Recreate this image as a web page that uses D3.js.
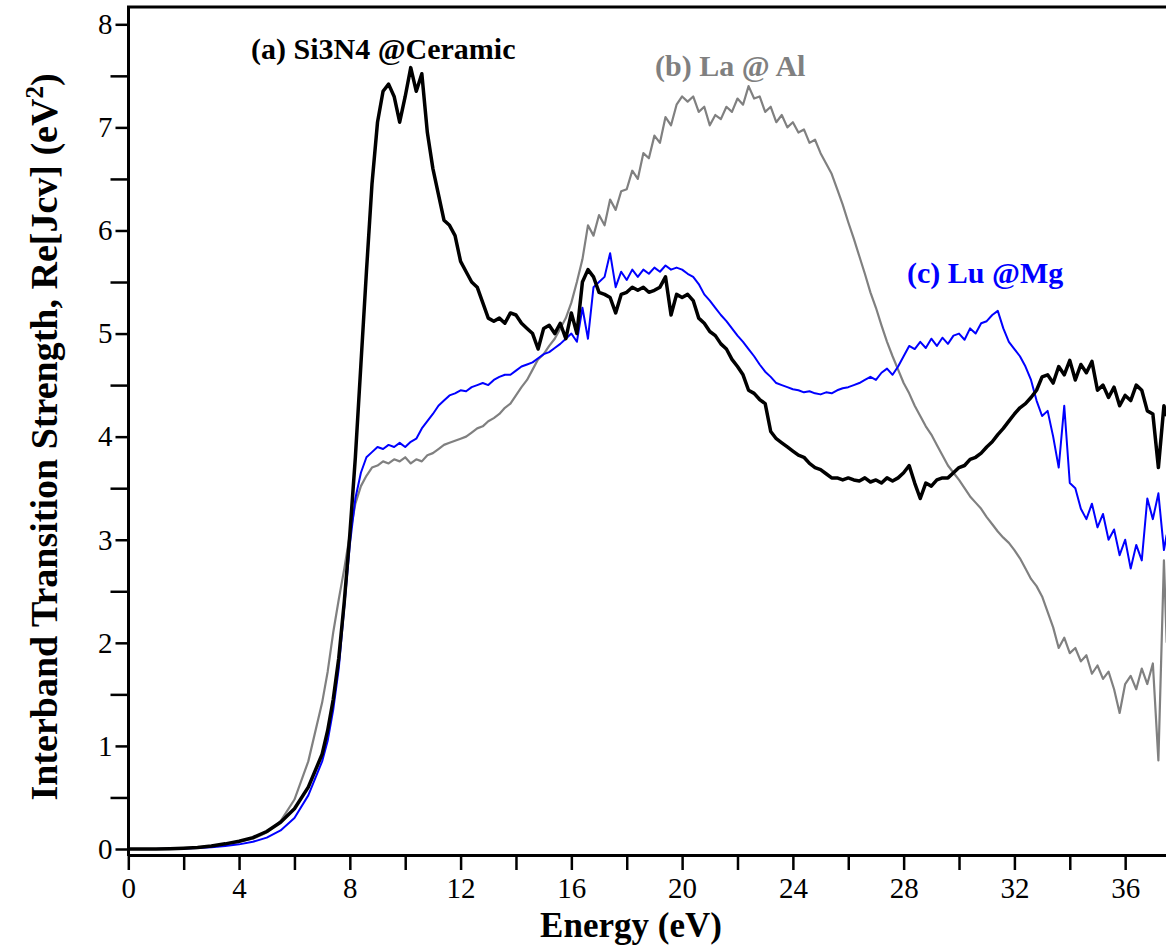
<!DOCTYPE html>
<html>
<head>
<meta charset="utf-8">
<script src="https://cdn.jsdelivr.net/npm/d3@7"></script>
<style>
  body { margin: 0; background: #fff; }
  text { font-family: "Liberation Serif", "Times New Roman", serif; }
</style>
</head>
<body>
<div id="chart"></div>
<script>

// photon energy (eV), shared by all three curves
const energy = [
    0, 0.5, 1, 1.5, 2, 2.5, 3, 3.5, 4, 4.5, 5, 5.5, 6, 6.5,
    7, 7.2, 7.4, 7.6, 7.8,
    8, 8.2, 8.4, 8.6, 8.8,
    9, 9.2, 9.4, 9.6, 9.8,
    10, 10.2, 10.4, 10.6, 10.8,
    11, 11.2, 11.4, 11.6, 11.8,
    12, 12.2, 12.4, 12.6, 12.8,
    13, 13.2, 13.4, 13.6, 13.8,
    14, 14.2, 14.4, 14.6, 14.8,
    15, 15.2, 15.4, 15.6, 15.8,
    16, 16.2, 16.4, 16.6, 16.8,
    17, 17.2, 17.4, 17.6, 17.8,
    18, 18.2, 18.4, 18.6, 18.8,
    19, 19.2, 19.4, 19.6, 19.8,
    20, 20.2, 20.4, 20.6, 20.8,
    21, 21.2, 21.4, 21.6, 21.8,
    22, 22.2, 22.4, 22.6, 22.8,
    23, 23.2, 23.4, 23.6, 23.8,
    24, 24.2, 24.4, 24.6, 24.8,
    25, 25.2, 25.4, 25.6, 25.8,
    26, 26.2, 26.4, 26.6, 26.8,
    27, 27.2, 27.4, 27.6, 27.8,
    28, 28.2, 28.4, 28.6, 28.8,
    29, 29.2, 29.4, 29.6, 29.8,
    30, 30.2, 30.4, 30.6, 30.8,
    31, 31.2, 31.4, 31.6, 31.8,
    32, 32.2, 32.4, 32.6, 32.8,
    33, 33.2, 33.4, 33.6, 33.8,
    34, 34.2, 34.4, 34.6, 34.8,
    35, 35.2, 35.4, 35.6, 35.8,
    36, 36.2, 36.4, 36.6, 36.8,
    37, 37.2, 37.4, 37.5
];

// (a) Si3N4 @Ceramic
const si3n4Ceramic = [
    0, 0, 0, 0.003, 0.008, 0.015, 0.03, 0.05, 0.075, 0.11, 0.17, 0.26, 0.39, 0.6,
    0.92, 1.15, 1.45, 1.85, 2.4,
    3.05, 3.8, 4.7, 5.6, 6.45,
    7.05, 7.35, 7.42, 7.3, 7.05,
    7.3, 7.58, 7.35, 7.52, 6.95,
    6.6, 6.35, 6.1, 6.05, 5.95,
    5.7, 5.6, 5.5, 5.45, 5.3,
    5.15, 5.12, 5.15, 5.1, 5.2,
    5.18, 5.1, 5.05, 5.0, 4.85,
    5.05, 5.08, 5.0, 5.1, 4.95,
    5.2, 5.0, 5.5, 5.62, 5.55,
    5.4, 5.38, 5.35, 5.2, 5.38,
    5.4, 5.45, 5.42, 5.45, 5.4,
    5.42, 5.45, 5.55, 5.18, 5.38,
    5.35, 5.38, 5.32, 5.15, 5.1,
    5.02, 4.98, 4.9, 4.85, 4.75,
    4.68, 4.6, 4.45, 4.42, 4.36,
    4.32, 4.05, 3.98, 3.94, 3.9,
    3.86, 3.82, 3.8, 3.74, 3.7,
    3.68, 3.64, 3.6, 3.6, 3.58,
    3.6, 3.58, 3.57, 3.6, 3.56,
    3.58, 3.55, 3.6, 3.57, 3.6,
    3.65, 3.72, 3.55, 3.4, 3.55,
    3.52, 3.58, 3.6, 3.6, 3.65,
    3.7, 3.72, 3.78, 3.8, 3.84,
    3.9, 3.95, 4.02, 4.08, 4.15,
    4.22, 4.28, 4.32, 4.38, 4.45,
    4.58, 4.6, 4.52, 4.68, 4.6,
    4.74, 4.55, 4.7, 4.62, 4.73,
    4.45, 4.5, 4.38, 4.48, 4.3,
    4.4, 4.35, 4.5, 4.45, 4.25,
    4.22, 3.7, 4.3, 4.2
];

// (b) La @ Al
const laAl = [
    0, 0, 0, 0.003, 0.008, 0.015, 0.028, 0.045, 0.07, 0.1, 0.16, 0.27, 0.48, 0.85,
    1.42, 1.72, 2.1, 2.42, 2.72,
    3.05, 3.35, 3.52, 3.62, 3.7,
    3.72, 3.76, 3.74, 3.78, 3.76,
    3.8, 3.74, 3.78, 3.76, 3.82,
    3.84, 3.88, 3.92, 3.94, 3.96,
    3.98, 4.0, 4.04, 4.08, 4.1,
    4.15, 4.18, 4.22, 4.28, 4.32,
    4.4, 4.48, 4.55, 4.65, 4.75,
    4.8, 4.88, 4.95, 5.05, 5.15,
    5.3, 5.5, 5.72, 6.05, 5.95,
    6.15, 6.05, 6.3, 6.2, 6.38,
    6.4, 6.58, 6.5, 6.75, 6.7,
    6.92, 6.85, 7.1, 7.02, 7.22,
    7.3, 7.25, 7.3, 7.15, 7.2,
    7.02, 7.12, 7.08, 7.2, 7.15,
    7.28, 7.22, 7.4, 7.28, 7.3,
    7.15, 7.2, 7.05, 7.12, 7.0,
    7.05, 6.95, 6.98, 6.85, 6.88,
    6.75, 6.65, 6.55, 6.4, 6.25,
    6.08, 5.92, 5.75, 5.58, 5.4,
    5.25, 5.08, 4.92, 4.78, 4.65,
    4.52, 4.42, 4.3, 4.2, 4.1,
    4.02, 3.92, 3.82, 3.72, 3.65,
    3.58, 3.5, 3.42, 3.36, 3.3,
    3.22, 3.15, 3.08, 3.02, 2.97,
    2.9, 2.82, 2.72, 2.62, 2.55,
    2.45, 2.3, 2.15, 1.95, 2.05,
    1.9, 1.95, 1.82, 1.88, 1.7,
    1.78, 1.65, 1.72, 1.55, 1.32,
    1.6, 1.68, 1.55, 1.75, 1.6,
    1.8, 0.86, 2.8, 2.0
];

// (c) Lu @Mg
const luMg = [
    0, 0, 0, 0.002, 0.005, 0.01, 0.018, 0.03, 0.045, 0.07, 0.11, 0.18, 0.3, 0.52,
    0.85, 1.05, 1.35, 1.75, 2.35,
    2.95, 3.4, 3.65, 3.8, 3.85,
    3.9, 3.88, 3.92, 3.9, 3.94,
    3.9, 3.95, 3.98, 4.08, 4.15,
    4.22, 4.3, 4.35, 4.4, 4.42,
    4.45, 4.44, 4.48, 4.5, 4.52,
    4.5, 4.55, 4.58, 4.6, 4.6,
    4.64, 4.68, 4.7, 4.72, 4.76,
    4.8, 4.82, 4.86, 4.9, 4.95,
    5.0, 4.92, 5.25, 4.95, 5.45,
    5.5, 5.55, 5.78, 5.45, 5.6,
    5.52, 5.62, 5.55, 5.62, 5.58,
    5.64, 5.6, 5.66, 5.62, 5.64,
    5.62, 5.58, 5.55, 5.48, 5.38,
    5.32, 5.25, 5.18, 5.12, 5.05,
    4.98, 4.92, 4.85, 4.78, 4.7,
    4.63, 4.58, 4.52, 4.5, 4.48,
    4.46, 4.45, 4.43, 4.44, 4.42,
    4.41, 4.43, 4.42, 4.45, 4.47,
    4.48, 4.5, 4.52, 4.55, 4.58,
    4.55, 4.62, 4.66, 4.6, 4.68,
    4.78, 4.88, 4.85, 4.92, 4.86,
    4.95, 4.88, 4.96, 4.9, 4.98,
    5.0, 4.94, 5.05, 5.0, 5.1,
    5.12, 5.18, 5.22, 5.05, 4.92,
    4.85, 4.78, 4.68, 4.55, 4.35,
    4.2, 4.25, 4.0, 3.7, 4.3,
    3.55, 3.5, 3.3, 3.2, 3.35,
    3.12, 3.25, 3.0, 3.1, 2.85,
    3.0, 2.72, 2.95, 2.8, 3.4,
    3.2, 3.45, 2.9, 3.05
];

const xTicks = [0, 2, 4, 6, 8, 10, 12, 14, 16, 18, 20, 22, 24, 26, 28, 30, 32, 34, 36];
const xLabels = [0, 4, 8, 12, 16, 20, 24, 28, 32, 36];
const yMajor = [0, 1, 2, 3, 4, 5, 6, 7, 8];
const yMinor = [0.5, 1.5, 2.5, 3.5, 4.5, 5.5, 6.5, 7.5];

const series = [
    { name: "(b) La @ Al", values: laAl, color: "#808080", width: 2.2 },
    { name: "(c) Lu @Mg", values: luMg, color: "#0000ff", width: 2 },
    { name: "(a) Si3N4 @Ceramic", values: si3n4Ceramic, color: "#000000", width: 3.5 }
];

const svg = d3.select("#chart").append("svg").attr("width", 1166).attr("height", 945);

const x = d3.scaleLinear().domain([0, 37.5]).range([128.3, 1166.7]);
const y = d3.scaleLinear().domain([0, 8]).range([849, 24.3]);

svg.append("clipPath").attr("id", "plot-clip")
    .append("rect").attr("x", 129).attr("y", 8).attr("width", 1037).attr("height", 847);

const line = d3.line()
    .x((d, i) => x(energy[i]))
    .y(d => y(d));

const plot = svg.append("g").attr("clip-path", "url(#plot-clip)");
plot.selectAll(".curve")
    .data(series)
    .enter().append("path")
    .attr("class", "curve")
    .attr("d", d => line(d.values))
    .attr("fill", "none")
    .attr("stroke", d => d.color)
    .attr("stroke-width", d => d.width)
    .attr("stroke-linejoin", "round");

// x axis
const xAxis = svg.append("g")
    .attr("transform", "translate(0,855)")
    .call(d3.axisBottom(x).tickValues(xTicks).tickSize(15).tickPadding(7).tickSizeOuter(0)
        .tickFormat(d => xLabels.includes(d) ? d : ""));
xAxis.select(".domain").attr("stroke-width", 3);
xAxis.selectAll(".tick line").attr("stroke-width", 2.5);
xAxis.selectAll("text").style("font-size", "29px").attr("fill", "#000");

// y axis, minor then major ticks
const yMinorAxis = svg.append("g")
    .attr("transform", "translate(128.5,0)")
    .call(d3.axisLeft(y).tickValues(yMinor).tickSize(18).tickFormat(""));
yMinorAxis.select(".domain").remove();
yMinorAxis.selectAll(".tick line").attr("stroke-width", 2.5);

const yAxis = svg.append("g")
    .attr("transform", "translate(128.5,0)")
    .call(d3.axisLeft(y).tickValues(yMajor).tickSize(13).tickPadding(3));
yAxis.select(".domain").remove();
yAxis.selectAll(".tick line").attr("stroke-width", 2.5);
yAxis.selectAll("text").style("font-size", "29px").attr("fill", "#000");

// frame: left axis line and top line
svg.append("line")
    .attr("x1", 128.5).attr("x2", 128.5).attr("y1", 6).attr("y2", 856)
    .attr("stroke", "#000").attr("stroke-width", 3);
svg.append("line")
    .attr("x1", 127).attr("x2", 1166).attr("y1", 7).attr("y2", 7)
    .attr("stroke", "#000").attr("stroke-width", 3);

// axis titles
svg.append("text")
    .attr("x", 631).attr("y", 937)
    .attr("text-anchor", "middle")
    .style("font-size", "35px").style("font-weight", "bold")
    .text("Energy (eV)");

const yTitle = svg.append("text")
    .attr("transform", "translate(57,437) rotate(-90)")
    .attr("text-anchor", "middle")
    .style("font-size", "38px").style("font-weight", "bold");
yTitle.append("tspan").text("Interband Transition Strength, Re[Jcv] (eV");
yTitle.append("tspan").attr("dy", -14).style("font-size", "25px").text("2");
yTitle.append("tspan").attr("dy", 14).text(")");

// curve labels
const labels = [
    { text: "(a) Si3N4 @Ceramic", color: "#000000", x: 251, y: 59 },
    { text: "(b) La @ Al", color: "#808080", x: 655, y: 76 },
    { text: "(c) Lu @Mg", color: "#0000ff", x: 907, y: 283 }
];
svg.selectAll(".curve-label")
    .data(labels)
    .enter().append("text")
    .attr("class", "curve-label")
    .attr("x", d => d.x).attr("y", d => d.y)
    .attr("fill", d => d.color)
    .style("font-size", "30px").style("font-weight", "bold")
    .text(d => d.text);

</script>
</body>
</html>
